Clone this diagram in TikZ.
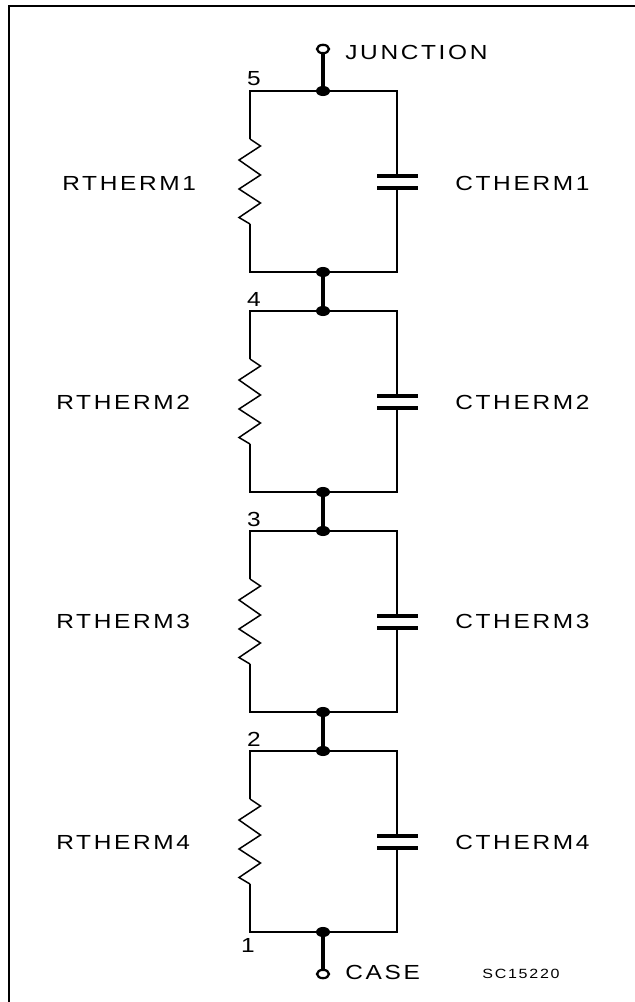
\documentclass[tikz,border=0pt]{standalone}
\usepackage{fontspec}
\setsansfont[FakeStretch=1.2,LetterSpace=13]{Liberation Sans}
\tikzset{
  wire/.style={line width=0.85pt,line join=miter},
  lead/.style={line width=2.3pt},
  plate/.style={line width=1.8pt},
  dot/.style={circle,fill=black,inner sep=0pt,minimum width=8pt,yscale=0.72},
  pin/.style={circle,draw=black,fill=white,line width=1.3pt,inner sep=0pt,minimum width=6.8pt,yscale=0.7},
  lab/.style={font=\sffamily\fontsize{11.6}{12}\selectfont,inner sep=0pt,anchor=west},
  num/.style={font=\sffamily\fontsize{11.6}{12}\selectfont,inner sep=0pt},
  tiny/.style={font=\sffamily\fontsize{7.6}{8}\selectfont,inner sep=0pt,anchor=west}
}
\begin{document}
\begin{tikzpicture}[x=0.02cm,y=-0.02cm]
\useasboundingbox (0,0) rectangle (635,1002);
\draw[line width=1.3pt] (9,1002) -- (9,6) -- (635,6);
\coordinate (pinT) at (323,49);
\coordinate (pinB) at (323,974);
\foreach \i/\n in {1/5,2/4,3/3,4/2}{
  \begin{scope}[yshift={(\i-1)*(-220)*0.02cm}]
  \coordinate (tl\i) at (250,91);
  \coordinate (tr\i) at (397,91);
  \coordinate (bl\i) at (250,272);
  \coordinate (br\i) at (397,272);
  \node[dot] (top\i) at (323,91) {};
  \node[dot] (bot\i) at (323,272) {};
  \draw[wire] (250,139) -- (tl\i) -- (tr\i) -- (397,176);
  \draw[wire] (397,188) -- (br\i) -- (bl\i) -- (250,224);
  \draw[wire] (250,139) -- (260.5,146) -- (239,160) -- (260.5,175) -- (239,189) -- (260.5,203) -- (239,217.5) -- (250,224);
  \draw[plate] (377,176) -- (418,176);
  \draw[plate] (377,188) -- (418,188);
  \node[num] (n\i) at (254,79) {\n};
  \end{scope}
}
\foreach \i/\y/\rx in {1/183/62,2/402/56,3/621/56,4/842/56}{
  \node[lab] (r\i) at (\rx,\y) {RTHERM\i};
  \node[lab] (c\i) at (455,\y) {CTHERM\i};
}
\draw[lead] (pinT) -- (top1);
\draw[lead] (bot1) -- (top2);
\draw[lead] (bot2) -- (top3);
\draw[lead] (bot3) -- (top4);
\draw[lead] (bot4) -- (pinB);
\node[pin] (j) at (pinT) {};
\node[pin] (k) at (pinB) {};
\node[lab] (jl) at (345,52) {JUNCTION};
\node[lab] (cl) at (345,972) {CASE};
\node[tiny] (sc) at (482,974) {SC15220};
\node[num] (n0) at (248,945) {1};
\end{tikzpicture}
\end{document}
